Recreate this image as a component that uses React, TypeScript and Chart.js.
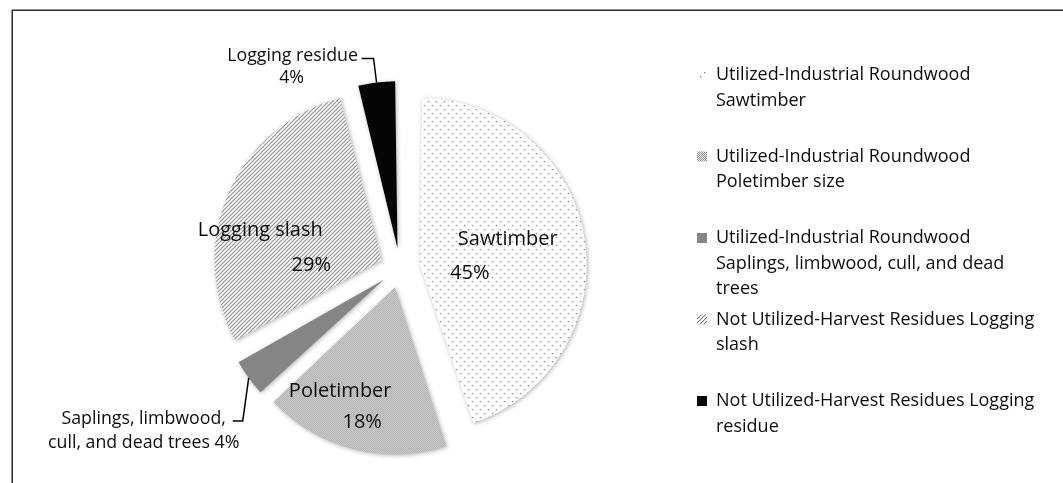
import React, { useEffect, useRef } from 'react';
import { Chart, registerables } from 'chart.js';

Chart.register(...registerables);

// ---------- data ----------
const legendLabels: string[][] = [
  ['Utilized-Industrial Roundwood', 'Sawtimber'],
  ['Utilized-Industrial Roundwood', 'Poletimber size'],
  ['Utilized-Industrial Roundwood', 'Saplings, limbwood, cull, and dead', 'trees'],
  ['Not Utilized-Harvest Residues Logging', 'slash'],
  ['Not Utilized-Harvest Residues Logging', 'residue'],
];
const sliceNames: string[][] = [
  ['Sawtimber'],
  ['Poletimber'],
  ['Saplings, limbwood,', 'cull, and dead trees'],
  ['Logging slash'],
  ['Logging residue'],
];
const percentValues: number[] = [45, 18, 4, 29, 4];

// ---------- styles ----------
const FONT_FAMILY = "'Open Sans'";
const LEGEND_SIZE = 18;
const INSIDE_SIZE = 20;
const OUTSIDE_SIZE = 17.75;
const EXPLODE = 80; // Chart.js arc offset (translates by offset/4)
const TEXT_COLOR = '#0d0d0d';

type LabelStyle = {
  outside: boolean;
  r: number;
  lines: [number, number][];
  pctInline: boolean;
  elbow?: [number, number];
  end?: [number, number];
};
const labelStyles: LabelStyle[] = [
  { outside: false, r: 80, lines: [[9, -13], [-29, 21]], pctInline: false },
  { outside: false, r: 120, lines: [[-25, -12], [-3, 19]], pctInline: false },
  { outside: true, r: 0, lines: [[-89, -2], [-89, 22]], pctInline: true, elbow: [-6, 43], end: [-10, 0] },
  { outside: false, r: 80, lines: [[-48, 2], [3, 37]], pctInline: false },
  { outside: true, r: 0, lines: [[-69, -3], [-70, 19]], pctInline: false, elbow: [-3, -24], end: [-12, 0] },
];

function makePattern(w: number, h: number, draw: (g: CanvasRenderingContext2D) => void) {
  const c = document.createElement('canvas');
  c.width = w;
  c.height = h;
  const g = c.getContext('2d')!;
  draw(g);
  return g.createPattern(c, 'repeat')!;
}

function buildFills() {
  const dots = makePattern(8, 8, (g) => {
    g.fillStyle = '#ffffff';
    g.fillRect(0, 0, 8, 8);
    g.fillStyle = '#cfcfcf';
    g.fillRect(1, 0, 1, 1);
    g.fillRect(0, 1, 1, 1);
    g.fillRect(5, 4, 1, 1);
    g.fillRect(4, 5, 1, 1);
    g.fillStyle = '#858585';
    g.fillRect(0, 0, 1, 1);
    g.fillRect(4, 4, 1, 1);
  });
  const checker = makePattern(2, 2, (g) => {
    g.fillStyle = '#f4f4f4';
    g.fillRect(0, 0, 2, 2);
    g.fillStyle = '#8a8a8a';
    g.fillRect(0, 0, 1, 1);
    g.fillRect(1, 1, 1, 1);
  });
  const stripes = makePattern(4, 4, (g) => {
    g.fillStyle = '#ffffff';
    g.fillRect(0, 0, 4, 4);
    g.fillStyle = '#dadada';
    for (let i = 0; i < 4; i++) g.fillRect((4 - i) % 4, i, 1, 1);
    g.fillStyle = '#747474';
    for (let i = 0; i < 4; i++) g.fillRect(3 - i, i, 1, 1);
  });
  return [dots, checker, '#858585', stripes, '#050505'];
}

const evenRadiusPlugin = {
  id: 'evenRadius',
  afterDatasetsUpdate(chart: any) {
    const meta = chart.getDatasetMeta(0);
    meta.data.forEach((arc: any) => {
      const fix = 1 - Math.sin(Math.min(Math.PI, arc.circumference));
      arc.outerRadius = arc.outerRadius - (EXPLODE / 4) * fix;
    });
  },
};

const shadowPlugin = {
  id: 'sliceShadow',
  beforeDatasetDraw(chart: any) {
    const ctx = chart.ctx;
    ctx.save();
    ctx.shadowColor = 'rgba(0,0,0,0.30)';
    ctx.shadowBlur = 4;
    ctx.shadowOffsetX = 1;
    ctx.shadowOffsetY = 1;
  },
  afterDatasetDraw(chart: any) {
    chart.ctx.restore();
  },
};

const framePlugin = {
  id: 'frame',
  beforeDraw(chart: any) {
    const ctx = chart.ctx;
    ctx.save();
    ctx.strokeStyle = '#2a2a2a';
    ctx.lineWidth = 1.5;
    ctx.beginPath();
    ctx.moveTo(12.25, chart.height);
    ctx.lineTo(12.25, 10.25);
    ctx.lineTo(chart.width, 10.25);
    ctx.stroke();
    ctx.restore();
  },
};

const labelPlugin = {
  id: 'sliceLabels',
  afterDatasetsDraw(chart: any) {
    const ctx = chart.ctx;
    const meta = chart.getDatasetMeta(0);
    const values = chart.data.datasets[0].data as number[];
    ctx.save();
    ctx.fillStyle = TEXT_COLOR;
    ctx.textAlign = 'center';
    ctx.textBaseline = 'middle';
    meta.data.forEach((arc: any, i: number) => {
      const st = labelStyles[i];
      const mid = (arc.startAngle + arc.endAngle) / 2;
      const ux = Math.cos(mid);
      const uy = Math.sin(mid);
      const shift = EXPLODE / 4;
      const fix = 1 - Math.sin(Math.min(Math.PI, arc.circumference));
      const drawnR = arc.outerRadius + shift * fix;
      const tipX = arc.x + ux * shift;
      const tipY = arc.y + uy * shift;
      const pct = `${values[i]}%`;
      const names = sliceNames[i];
      let lines: string[];
      if (st.pctInline) {
        lines = names.slice(0, -1).concat([names[names.length - 1] + ' ' + pct]);
      } else {
        lines = names.concat([pct]);
      }
      let ax: number;
      let ay: number;
      if (st.outside) {
        const px = tipX + ux * drawnR;
        const py = tipY + uy * drawnR;
        const ex = px + st.elbow![0];
        const ey = py + st.elbow![1];
        const fx = ex + st.end![0];
        const fy = ey + st.end![1];
        ctx.save();
        ctx.strokeStyle = '#000';
        ctx.lineWidth = 1.5;
        ctx.beginPath();
        ctx.moveTo(px, py);
        ctx.lineTo(ex, ey);
        ctx.lineTo(fx, fy);
        ctx.stroke();
        ctx.restore();
        ax = fx;
        ay = fy;
        ctx.font = `${OUTSIDE_SIZE}px ${FONT_FAMILY}`;
      } else {
        ax = tipX + ux * st.r;
        ay = tipY + uy * st.r;
        ctx.font = `${INSIDE_SIZE}px ${FONT_FAMILY}`;
      }
      lines.forEach((t, k) => {
        const off = st.lines[k] || [0, 0];
        ctx.fillText(t, ax + off[0], ay + off[1]);
      });
    });
    ctx.restore();
  },
};

export default function App() {
  const ref = useRef<HTMLCanvasElement | null>(null);

  useEffect(() => {
    if (!ref.current) return;
    const W = 1063;
    const mc = document.createElement('canvas').getContext('2d')!;
    mc.font = `${LEGEND_SIZE}px ${FONT_FAMILY}`;
    let longest = '';
    legendLabels.forEach((l) => l.forEach((s) => { if (s.length > longest.length) longest = s; }));
    const tw = mc.measureText(longest).width;
    const legPad = 5;
    const boxW = 10;
    const legendLeft = 692;
    const legendWidth = legPad + boxW + LEGEND_SIZE / 2 + tw + 10;
    const padRight = Math.max(0, W - legendLeft - legendWidth);
    const pieCenterX = 400;
    const padLeft = 2 * pieCenterX - legendLeft;

    const fills = buildFills();
    const chart = new Chart(ref.current, {
      type: 'pie',
      data: {
        labels: legendLabels as any,
        datasets: [
          {
            data: percentValues,
            backgroundColor: fills as any,
            borderWidth: 0,
            offset: EXPLODE,
            hoverOffset: 0,
          },
        ],
      },
      options: {
        responsive: false,
        animation: false,
        events: [],
        layout: { padding: { top: 61, bottom: 8, left: padLeft, right: padRight } },
        plugins: {
          tooltip: { enabled: false },
          legend: {
            position: 'right',
            align: 'start',
            labels: {
              boxWidth: boxW,
              boxHeight: boxW,
              padding: legPad,
              color: TEXT_COLOR,
              font: { family: FONT_FAMILY, size: LEGEND_SIZE, lineHeight: 25.5 / LEGEND_SIZE },
              generateLabels: (c: any) => {
                const base = (Chart as any).overrides.pie.plugins.legend.labels.generateLabels(c);
                return base.map((it: any) => {
                  const t = Array.isArray(it.text) ? [...it.text] : [it.text];
                  while (t.length < 3) t.push('');
                  return { ...it, text: t, lineWidth: 0 };
                });
              },
            },
          },
        },
      },
      plugins: [evenRadiusPlugin, shadowPlugin, framePlugin, labelPlugin],
    });
    return () => chart.destroy();
  }, []);

  return (
    <div style={{ position: 'fixed', left: 0, top: 0, width: 1063, height: 483, background: '#fff' }}>
      <canvas ref={ref} width={1063} height={483} />
    </div>
  );
}
